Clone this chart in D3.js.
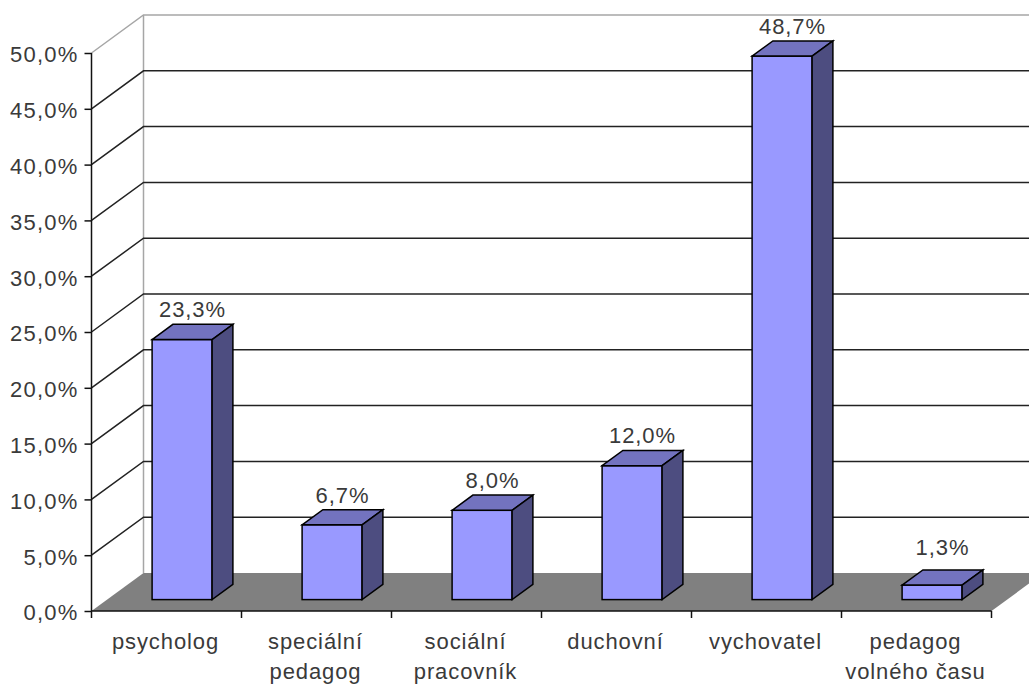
<!DOCTYPE html>
<html>
<head>
<meta charset="utf-8">
<script src="https://cdn.jsdelivr.net/npm/d3@7/dist/d3.min.js"></script>
<style>
  html, body { margin: 0; padding: 0; background: #fff; }
  svg { display: block; }
  text { font-family: "Liberation Sans", Arial, sans-serif; font-size: 22px; fill: #3a3a3a; letter-spacing: 0.9px; }
</style>
</head>
<body>
<div id="chart"></div>
<script>
// Chart data
var categories = ["psycholog", "speciální\npedagog", "sociální\npracovník", "duchovní", "vychovatel", "pedagog\nvolného času"];
var values = [23.3, 6.7, 8.0, 12.0, 48.7, 1.3];
var valueLabels = ["23,3%", "6,7%", "8,0%", "12,0%", "48,7%", "1,3%"];
var yTicks = [0, 5, 10, 15, 20, 25, 30, 35, 40, 45, 50];

var svgWidth = 1029;
var svgHeight = 685;

// front left corner of the plot and the 3D depth of the box
var x0 = 91.5;
var y0 = 611;
var plotWidth = 900;
var plotHeight = 558;
var depthX = 52;
var depthY = 38;

// bars sit in the middle 40% of the depth
var barFront = 0.3;
var barDepth = 0.4;

var svg = d3.select("#chart")
  .append("svg")
  .attr("width", svgWidth)
  .attr("height", svgHeight);

var xScale = d3.scaleBand()
  .domain(categories)
  .range([0, plotWidth])
  .paddingInner(0.6)
  .paddingOuter(0.3);

var yScale = d3.scaleLinear()
  .domain([0, 50])
  .range([plotHeight, 0]);

var chartGroup = svg.append("g")
  .attr("transform", `translate(${x0}, ${y0 - plotHeight})`);

// Floor
chartGroup.append("polygon")
  .attr("points", [
    [0, plotHeight],
    [depthX, plotHeight - depthY],
    [plotWidth + depthX, plotHeight - depthY],
    [plotWidth, plotHeight]
  ].join(" "))
  .attr("fill", "#808080");

// Walls
chartGroup.append("path")
  .attr("d", `M0,${yScale(50)}L${depthX},${yScale(50) - depthY}H${plotWidth + depthX}`)
  .attr("fill", "none")
  .attr("stroke", "#a6a6a6")
  .attr("stroke-width", 1.5);

chartGroup.append("line")
  .attr("x1", depthX)
  .attr("x2", depthX)
  .attr("y1", yScale(50) - depthY)
  .attr("y2", plotHeight - depthY)
  .attr("stroke", "#a6a6a6")
  .attr("stroke-width", 1.5);

// Gridlines, running over the side wall and along the back wall
var gridTicks = yTicks.filter(d => d > 0 && d < 50);

chartGroup.selectAll(".grid")
  .data(gridTicks)
  .enter()
  .append("path")
  .attr("class", "grid")
  .attr("d", d => `M0,${yScale(d)}L${depthX},${yScale(d) - depthY}H${plotWidth + depthX}`)
  .attr("fill", "none")
  .attr("stroke", "#222")
  .attr("stroke-width", 1.5);

// Bars
var bars = chartGroup.selectAll(".bar")
  .data(categories)
  .enter()
  .append("g")
  .attr("class", "bar")
  .attr("transform", `translate(${depthX * barFront}, ${-depthY * barFront})`);

var dx = depthX * barDepth;
var dy = depthY * barDepth;
var barW = xScale.bandwidth();

// front face
bars.append("rect")
  .attr("x", d => xScale(d))
  .attr("y", (d, i) => yScale(values[i]))
  .attr("width", barW)
  .attr("height", (d, i) => plotHeight - yScale(values[i]))
  .attr("fill", "#9999ff")
  .attr("stroke", "#000")
  .attr("stroke-width", 1.5);

// top face
bars.append("polygon")
  .attr("points", function(d, i) {
    var x = xScale(d), y = yScale(values[i]);
    return [[x, y], [x + dx, y - dy], [x + barW + dx, y - dy], [x + barW, y]].join(" ");
  })
  .attr("fill", "#7373bf")
  .attr("stroke", "#000")
  .attr("stroke-width", 1.5);

// side face
bars.append("polygon")
  .attr("points", function(d, i) {
    var x = xScale(d) + barW, y = yScale(values[i]);
    return [[x, y], [x + dx, y - dy], [x + dx, plotHeight - dy], [x, plotHeight]].join(" ");
  })
  .attr("fill", "#4d4d80")
  .attr("stroke", "#000")
  .attr("stroke-width", 1.5);

// Value labels, kept clear of the floor for the very short bars
bars.append("text")
  .attr("x", d => xScale(d) + barW / 2 + dx / 2)
  .attr("y", (d, i) => Math.min(yScale(values[i]) - dy - 7, plotHeight - depthY - 7))
  .attr("text-anchor", "middle")
  .text((d, i) => valueLabels[i]);

// Axes
var leftAxis = d3.axisLeft(yScale)
  .tickValues(yTicks)
  .tickSize(7)
  .tickPadding(6)
  .tickFormat(d => d.toFixed(1).replace(".", ",") + "%");

var yAxisGroup = chartGroup.append("g").call(leftAxis);

var bottomAxis = d3.axisBottom(xScale)
  .tickSize(0)
  .tickPadding(0)
  .tickFormat("");

var xAxisGroup = chartGroup.append("g")
  .attr("transform", `translate(0, ${plotHeight})`)
  .call(bottomAxis);

yAxisGroup.select(".domain").attr("d", `M0,0V${plotHeight}`);
xAxisGroup.select(".domain").attr("d", `M0,0H${plotWidth}`);
chartGroup.selectAll(".domain").attr("stroke", "#111").attr("stroke-width", 1.5);
yAxisGroup.selectAll(".tick line").attr("stroke", "#111").attr("stroke-width", 1.5);
yAxisGroup.selectAll("text")
  .attr("dy", "0.4em")
  .style("letter-spacing", "1.2px");
chartGroup.selectAll("g").attr("font-size", null).attr("font-family", null);

// Category ticks fall between the bands
xAxisGroup.selectAll(".tick").remove();
var step = xScale.step();

xAxisGroup.selectAll(".catTick")
  .data(d3.range(categories.length + 1))
  .enter()
  .append("line")
  .attr("class", "catTick")
  .attr("x1", d => d * step)
  .attr("x2", d => d * step)
  .attr("y1", 0)
  .attr("y2", 7)
  .attr("stroke", "#111")
  .attr("stroke-width", 1.5);

var catLabels = xAxisGroup.selectAll(".catLabel")
  .data(categories)
  .enter()
  .append("text")
  .attr("class", "catLabel")
  .attr("text-anchor", "middle");

catLabels.selectAll("tspan")
  .data(d => d.split("\n"))
  .enter()
  .append("tspan")
  .attr("y", (d, i) => 38 + i * 30)
  .text(d => d);

catLabels.each(function(d, i) {
  d3.select(this).selectAll("tspan").attr("x", (i + 0.5) * step - 1);
});
</script>
</body>
</html>
